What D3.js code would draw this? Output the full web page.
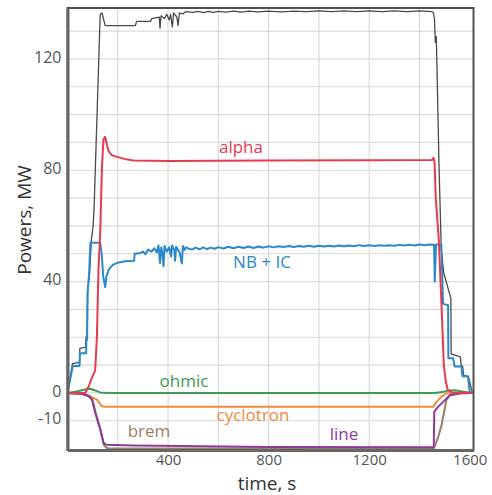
<!DOCTYPE html>
<html><head><meta charset="utf-8">
<script src="https://cdn.jsdelivr.net/npm/d3@7"></script>
<style>
html,body{margin:0;padding:0;background:#fff;}
svg{display:block;font-family:"Open Sans",sans-serif;}
</style></head>
<body>
<svg id="chart" width="492" height="495"></svg>
<script>
// ---- data (time s, power MW) ----
const xTicks = [400, 800, 1200, 1600];
const yTicks = [-10, 0, 40, 80, 120];
const xGrid = [200, 400, 600, 800, 1000, 1200, 1400];
const yGrid = [-10, 0, 10, 20, 30, 40, 50, 60, 70, 80, 90, 100, 110, 120, 130];

const total = [[0,0],[20,10.5],[48,11],[49,16],[72,16.5],[74,20],[78,21],[80,37],[88,43],[95,55],[102,60],[106,67],[130,136],[137,136.5],[150,132],[270,132],[275,133.5],[330,133.5],[335,134.5],[365,135],[368,131],[372,135.5],[385,134.5],[395,136],[405,134],[410,136],[417,131.5],[422,136.5],[435,135],[440,132],[445,136.5],[460,136.2],[470,137],[500,136.7],[520,137.1],[540,136.6],[560,137.1],[580,136.7],[600,137.1],[630,136.8],[660,137.2],[690,136.8],[720,137.2],[760,136.9],[800,137.2],[850,136.9],[900,137.2],[950,137],[1000,137.3],[1050,137],[1100,137.3],[1150,137],[1200,137.3],[1250,137],[1300,137.3],[1350,137],[1400,137.3],[1450,137],[1456,136.5],[1460,134],[1463,126],[1467,128],[1470,116],[1478,81],[1487,51],[1497,43],[1525,34],[1526,14],[1545,13.5],[1563,13],[1566,10],[1572,9.5],[1575,6.5],[1595,5.7],[1610,0.3]];

const nbic = [[0,0],[21,9.7],[48,9.7],[49,14.3],[74,14.3],[75,19],[78,19],[80,36],[86,43],[91,54],[130,54],[136,50],[142,42],[150,38],[155,42],[165,44.5],[180,46],[200,46.8],[230,47.3],[265,47.5],[267,50],[290,50.3],[300,50.8],[310,49.8],[320,51.5],[335,50.8],[345,52],[355,50.5],[362,53],[368,46.7],[373,52.3],[378,50],[382,45.5],[386,52.8],[395,50.8],[405,52.3],[412,49],[416,53],[425,51.2],[428,47.5],[432,52.5],[440,51.4],[446,50.5],[455,46.5],[459,52.8],[465,51.4],[472,52.3],[480,51.9],[495,51.5],[510,52.2],[525,51.6],[540,52.3],[555,51.7],[570,52.2],[585,51.8],[600,52.4],[620,51.9],[640,52.5],[660,52],[680,52.5],[700,52.1],[720,52.6],[740,52.1],[760,52.6],[780,52.2],[800,52.7],[820,52.3],[840,52.7],[860,52.4],[880,52.8],[900,52.4],[920,52.8],[940,52.5],[960,52.9],[980,52.5],[1000,52.9],[1020,52.6],[1040,52.9],[1060,52.6],[1080,53],[1100,52.7],[1120,53],[1140,52.7],[1160,53.1],[1180,52.8],[1200,53.1],[1220,52.8],[1240,53.1],[1260,52.9],[1280,53.1],[1300,52.9],[1320,53.2],[1340,53],[1360,53.2],[1380,53],[1400,53.3],[1420,53.1],[1440,53.3],[1458,53.2],[1461,40],[1466,53.3],[1487,53.3],[1494,32],[1514,31.5],[1515,12.5],[1534,12.5],[1540,9.5],[1567,9.5],[1571,6],[1593,6],[1600,0.3],[1610,0]];

const alpha = [[0,0],[70,0],[85,2.5],[97,5.4],[110,8],[117,20],[123,44],[130,57],[137,81],[143,91],[150,92],[157,89],[163,87],[175,85.5],[190,85],[230,84],[262,83.5],[400,83.3],[800,83.5],[1200,83.6],[1450,83.7],[1456,84.5],[1460,83],[1465,70],[1477,55],[1488,31],[1497,10],[1505,4],[1513,1],[1530,0.2],[1610,0]];

const ohmic = [[0,0],[40,0.6],[70,1.2],[90,1.5],[110,0.9],[130,0.2],[160,0],[1460,0],[1490,0.3],[1515,0.9],[1540,1],[1570,0.5],[1600,0.1],[1610,0]];

const cyclotron = [[0,0],[60,-0.4],[90,-1.2],[117,-2.4],[137,-4.8],[150,-5],[1455,-5],[1468,-3.2],[1488,-1.3],[1507,-0.1],[1610,0]];

const brem = [[0,0],[60,-0.3],[86,-1],[99,-2.4],[112,-7],[132,-13.5],[146,-19],[160,-20],[1457,-20],[1474,-16],[1488,-11.5],[1501,-5.5],[1507,-2.6],[1521,-0.8],[1561,-0.1],[1610,0]];

const line = [[0,0],[60,-0.4],[84,-1.2],[97,-2.4],[110,-7],[130,-13],[143,-18],[155,-18.6],[262,-18.9],[450,-19.1],[800,-19.4],[1457,-19.5],[1459,-6.7],[1474,-5],[1494,-3.2],[1521,-0.8],[1561,-0.1],[1610,0]];

const seriesLabels = ["alpha", "NB + IC", "ohmic", "cyclotron", "brem", "line"];

// ---- drawing ----
const svg = d3.select("#chart");
const x = d3.scaleLinear().domain([0, 1615]).range([67.5, 473.5]);
const y = d3.scaleLinear().domain([-20.5, 138.3]).range([450, 8]);

// grid
svg.append("g").selectAll("line").data(xGrid).join("line")
  .attr("x1", d => x(d)).attr("x2", d => x(d)).attr("y1", y.range()[1]).attr("y2", y.range()[0])
  .attr("stroke", "#d9d9d9").attr("stroke-width", 1.2);
svg.append("g").selectAll("line").data(yGrid).join("line")
  .attr("y1", d => y(d)).attr("y2", d => y(d)).attr("x1", x.range()[0]).attr("x2", x.range()[1])
  .attr("stroke", "#d9d9d9").attr("stroke-width", 1.2);

const gen = d3.line().x(d => x(d[0])).y(d => y(d[1]));
const curves = [
  {data: total, color: "#4a4a4a", w: 1.3},
  {data: ohmic, color: "#3f9a52", w: 2},
  {data: cyclotron, color: "#f28a3e", w: 2},
  {data: brem, color: "#9c7e68", w: 2},
  {data: line, color: "#8c3c97", w: 2},
  {data: nbic, color: "#2b89c9", w: 2},
  {data: alpha, color: "#e63a50", w: 2}
];
svg.append("g").selectAll("path").data(curves).join("path")
  .attr("d", d => gen(d.data)).attr("fill", "none")
  .attr("stroke", d => d.color).attr("stroke-width", d => d.w)
  .attr("stroke-linejoin", "round");

// frame
svg.append("rect").attr("x", x.range()[0]).attr("y", y.range()[1])
  .attr("width", x.range()[1] - x.range()[0]).attr("height", y.range()[0] - y.range()[1])
  .attr("fill", "none").attr("stroke", "#505050").attr("stroke-width", 2);
// axes (thicker left/bottom)
const yAxis = d3.axisLeft(y).tickValues(yTicks).tickSize(0).tickPadding(6).tickFormat(d => String(d));
const gy = svg.append("g").attr("transform", `translate(${x.range()[0]},0)`).call(yAxis);
gy.select(".domain").attr("stroke", "#666").attr("stroke-width", 3);
gy.selectAll("text").attr("font-size", 16).attr("fill", "#555").attr("font-family", "Open Sans").attr("dy", "0.2em");

const xAxis = d3.axisBottom(x).tickValues(xTicks).tickSize(0).tickPadding(4).tickFormat(d => String(d));
const gx = svg.append("g").attr("transform", `translate(0,${y.range()[0]})`).call(xAxis);
gx.select(".domain").attr("stroke", "#666").attr("stroke-width", 3);
gx.selectAll("text").attr("font-size", 15).attr("fill", "#555").attr("font-family", "Open Sans");

// axis titles
svg.append("text").attr("x", 267).attr("y", 490).attr("text-anchor", "middle")
  .attr("font-size", 19).attr("fill", "#333").text("time, s");
svg.append("text").attr("transform", "translate(31,220) rotate(-90)").attr("text-anchor", "middle")
  .attr("font-size", 19).attr("fill", "#333").text("Powers, MW");

// series labels
const labelPos = [
  {x: 241, y: 153, c: "#e63a50"},
  {x: 262, y: 268, c: "#2b89c9"},
  {x: 184, y: 387, c: "#3f9a52"},
  {x: 253, y: 421, c: "#f28a3e"},
  {x: 149, y: 437, c: "#9c7e68"},
  {x: 344, y: 440, c: "#8c3c97"}
];
svg.append("g").selectAll("text").data(seriesLabels).join("text")
  .attr("x", (d, i) => labelPos[i].x).attr("y", (d, i) => labelPos[i].y)
  .attr("text-anchor", "middle").attr("fill", (d, i) => labelPos[i].c)
  .attr("font-size", 17).text(d => d);
</script>
</body></html>
